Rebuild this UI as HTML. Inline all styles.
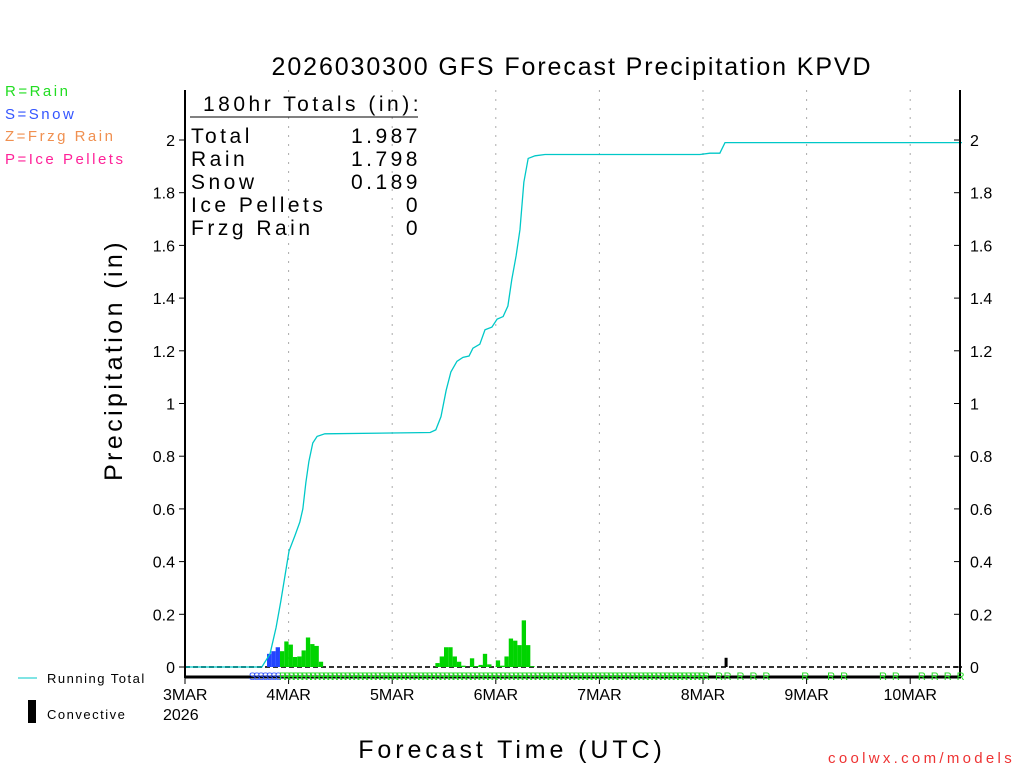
<!DOCTYPE html>
<html><head><meta charset="utf-8">
<style>
body{margin:0;background:#fff;width:1024px;height:768px;overflow:hidden;font-family:"Liberation Sans",sans-serif}
svg text{font-family:"Liberation Sans",sans-serif}
</style></head>
<body>
<svg id="chart" width="1024" height="768" xmlns="http://www.w3.org/2000/svg">
<text x="572" y="75" font-size="25" text-anchor="middle" fill="#000" letter-spacing="1.9">2026030300 GFS Forecast Precipitation KPVD</text>
<g font-size="15" letter-spacing="2.5">
<text x="5" y="96" fill="#22dd22">R=Rain</text>
<text x="5" y="119" fill="#3355ff">S=Snow</text>
<text x="5" y="141" fill="#f09050">Z=Frzg Rain</text>
<text x="5" y="164" fill="#ff2299">P=Ice Pellets</text>
</g>
<text transform="translate(122,360) rotate(-90)" font-size="25" text-anchor="middle" letter-spacing="3.4">Precipitation (in)</text>
<text x="512" y="758" font-size="25" text-anchor="middle" letter-spacing="3.9">Forecast Time (UTC)</text>
<text x="1015" y="763" font-size="15" text-anchor="end" fill="#ee3333" letter-spacing="3.3">coolwx.com/models</text>
<g id="grid"></g>
<g id="marks"></g>
<g id="axes"></g>
<g id="letters"></g>
<g font-size="21" fill="#000" letter-spacing="3.5">
<text x="203" y="111">180hr Totals (in):</text>
<line x1="190" y1="117" x2="418" y2="117" stroke="#000" stroke-width="1"/>
<text x="191" y="143">Total</text><text x="421" y="143" text-anchor="end">1.987</text>
<text x="191" y="166">Rain</text><text x="421" y="166" text-anchor="end">1.798</text>
<text x="191" y="189">Snow</text><text x="421" y="189" text-anchor="end">0.189</text>
<text x="191" y="212">Ice Pellets</text><text x="421" y="212" text-anchor="end">0</text>
<text x="191" y="235">Frzg Rain</text><text x="421" y="235" text-anchor="end">0</text>
</g>
<g font-size="13" letter-spacing="1.5">
<line x1="18" y1="678" x2="37" y2="678" stroke="#00c8c8" stroke-width="1"/>
<text x="47" y="683">Running Total</text>
<rect x="28" y="700" width="8" height="23" fill="#000"/>
<text x="47" y="719">Convective</text>
</g>
</svg>
<script>
const yTicks=[0,0.2,0.4,0.6,0.8,1,1.2,1.4,1.6,1.8,2];
const dayLabels=["3MAR","4MAR","5MAR","6MAR","7MAR","8MAR","9MAR","10MAR"];
const snowHours=[19,20,21];
const snowVals=[0.05,0.06,0.075];
const rainHours=[22,23,24,25,26,27,28,29,30,31,58,59,60,61,62,63,64,66,67,68,69,70,72,73,74,75,76,77,78,79,80];
const rainVals=[0.06,0.097,0.085,0.038,0.04,0.063,0.112,0.087,0.08,0.02,0.015,0.04,0.075,0.075,0.04,0.02,0.005,0.033,0.003,0.008,0.05,0.01,0.025,0.005,0.04,0.108,0.1,0.083,0.177,0.083,0.003];
const convHours=[125];
const convVals=[0.035];
const totHours=[0,17.8,19.7,21.1,22.2,23.2,24.1,25.5,26.6,27.3,28.0,28.7,29.6,30.6,32.4,56.8,58.1,59.3,60.5,61.6,63.0,64.4,65.8,66.7,68.3,69.5,71.1,72.3,73.7,74.8,75.7,76.7,77.6,78.5,79.5,81.1,83.4,119.3,121.6,123.9,125.1,180];
const totVals=[0,0,0.05,0.15,0.25,0.35,0.44,0.5,0.55,0.6,0.7,0.78,0.85,0.875,0.885,0.89,0.9,0.95,1.05,1.12,1.16,1.175,1.18,1.21,1.225,1.28,1.29,1.32,1.33,1.37,1.47,1.56,1.66,1.84,1.93,1.94,1.945,1.945,1.95,1.95,1.99,1.99];
const sparseRHours=[120,123,125,128,131,134,143,149,152,161,164,170,173,176,179];

const NS="http://www.w3.org/2000/svg";
const X0=185,X1=962,Y0=667,YTOP=90;
const xs=h=>X0+h*(X1-X0)/180;
const ys=v=>Y0-v*(Y0-140)/2;
function mk(tag,attrs,parent){const e=document.createElementNS(NS,tag);for(const k in attrs)e.setAttribute(k,attrs[k]);parent.appendChild(e);return e;}
const grid=document.getElementById('grid'),marks=document.getElementById('marks'),axes=document.getElementById('axes'),lg=document.getElementById('letters');
dayLabels.forEach((d,i)=>{
  const x=xs(i*24);
  if(i>0){const g=mk('line',{x1:x,x2:x,y1:YTOP,y2:Y0,stroke:'#aaa','stroke-dasharray':'2,7'},grid);
  
  }
  mk('line',{x1:x,x2:x,y1:677,y2:684,stroke:'#000'},axes);
  const t=mk('text',{x:x-(i==0?22:0),y:700,'font-size':16,'text-anchor':i==0?'start':'middle'},axes);
  
  
  t.textContent=d;
});
const yr=mk('text',{x:163,y:720,'font-size':16},axes);


yr.textContent='2026';
mk('line',{x1:X0,x2:X1,y1:Y0,y2:Y0,stroke:'#333','stroke-width':2,'stroke-dasharray':'5,3'},grid);
yTicks.forEach(v=>{
  const y=ys(v);
  mk('line',{x1:179,x2:X0,y1:y,y2:y,stroke:'#000'},axes);
  mk('line',{x1:954,x2:960,y1:y,y2:y,stroke:'#000'},axes);
  const a=mk('text',{x:175,y:y+6,'font-size':16,'text-anchor':'end'},axes);
  
  
  a.textContent=v;
  const b=mk('text',{x:970,y:y+6,'font-size':16},axes);
  
  
  b.textContent=v;
});
mk('line',{x1:X0,x2:X0,y1:YTOP,y2:678,stroke:'#000','stroke-width':2},axes);
mk('line',{x1:960,x2:960,y1:YTOP,y2:678,stroke:'#000','stroke-width':2},axes);
mk('line',{x1:X0,x2:961,y1:677,y2:677,stroke:'#000','stroke-width':3},axes);
const bw=(X1-X0)/180;
function bars(hours,vals,color,name,w){
  hours.forEach((h,i)=>{
    const r=mk('rect',{x:xs(h),y:ys(vals[i]),width:w||bw,height:Y0-ys(vals[i]),fill:color},marks);
    
    
  });
}
bars(snowHours,snowVals,'#2244ff','snow-bar');
bars(rainHours,rainVals,'#00d400','rain-bar');
bars(convHours,convVals,'#000','convective-bar',3);
const pl=mk('polyline',{points:totHours.map((h,i)=>xs(h)+','+ys(totVals[i])).join(' '),fill:'none',stroke:'#00c8c8','stroke-width':1.3},marks);


const letters=[];
for(let h=15;h<=21;h++)letters.push([h,'S']);
for(let h=22;h<=119;h++)letters.push([h,'R']);
sparseRHours.forEach(h=>letters.push([h,'R']));
letters.forEach(([h,c])=>{
  const t=mk('text',{x:xs(h)-1,y:680,'font-size':11,fill:c=='S'?'#3355ff':'#22dd22'},lg);
  
  
  t.textContent=c;
});
</script>
</body></html>
